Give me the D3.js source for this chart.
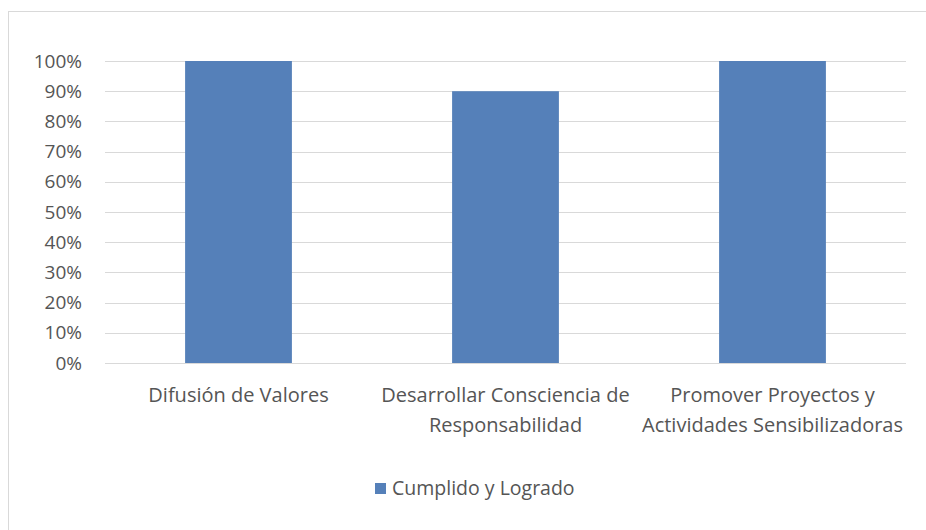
<!DOCTYPE html>
<html>
<head>
<meta charset="utf-8">
<script src="https://cdn.jsdelivr.net/npm/d3@7"></script>
<style>
  body { margin: 0; background: #fff; }
  text { font-family: "Open Sans", "Noto Sans", sans-serif; fill: #555; }
</style>
</head>
<body>
<div id="chart"></div>
<script>
const categories = [
  ["Difusión de Valores"],
  ["Desarrollar Consciencia de", "Responsabilidad"],
  ["Promover Proyectos y", "Actividades Sensibilizadoras"]
]
const values = [1.0, 0.9, 1.0]
const seriesName = "Cumplido y Logrado"
const yTicks = [0, 0.1, 0.2, 0.3, 0.4, 0.5, 0.6, 0.7, 0.8, 0.9, 1.0]

const width = 926
const height = 530
const margin = { left: 105, top: 61, right: 20, bottom: 167 }
const barColor = '#5580b9'

const svg = d3.select('#chart').append('svg')
  .attr('width', width)
  .attr('height', height)

// chart frame
svg.append('rect')
  .attr('x', 8.5).attr('y', 11.5)
  .attr('width', width).attr('height', height)
  .attr('fill', 'none')
  .attr('stroke', '#d9d9d9')

const x = d3.scaleBand()
  .domain(d3.range(categories.length))
  .range([margin.left, width - margin.right])
  .paddingInner(0.6)
  .paddingOuter(0.3)

const y = d3.scaleLinear()
  .domain([0, 1])
  .range([height - margin.bottom, margin.top])

// gridlines
svg.append('g')
  .selectAll('line')
  .data(yTicks)
  .join('line')
  .attr('x1', margin.left)
  .attr('x2', width - margin.right)
  .attr('y1', d => Math.round(y(d)) + 0.5)
  .attr('y2', d => Math.round(y(d)) + 0.5)
  .attr('stroke', '#d9d9d9')

// y axis labels
const yAxis = svg.append('g')
  .attr('transform', `translate(${margin.left}, 0)`)
  .call(d3.axisLeft(y).tickValues(yTicks).tickFormat(d3.format('.0%')).tickSize(0).tickPadding(23))
yAxis.select('.domain').remove()
yAxis.selectAll('.tick text')
  .style('font-size', '19px')
  .style('fill', '#555')
  .style('font-family', '"Open Sans", "Noto Sans", sans-serif')

// bars
svg.append('g')
  .selectAll('rect')
  .data(values)
  .join('rect')
  .attr('x', (d, i) => x(i))
  .attr('y', d => y(d))
  .attr('width', x.bandwidth())
  .attr('height', d => y(0) - y(d))
  .attr('fill', barColor)

// category labels
const catLabels = svg.append('g')
  .selectAll('text')
  .data(categories)
  .join('text')
  .attr('text-anchor', 'middle')
  .style('font-size', '20px')
  .attr('transform', (d, i) => `translate(${x(i) + x.bandwidth() / 2}, 402)`)

catLabels.selectAll('tspan')
  .data(d => d)
  .join('tspan')
  .attr('x', 0)
  .attr('y', (d, i) => i * 30)
  .text(d => d)

// legend
const legend = svg.append('g').attr('transform', 'translate(375, 483)')
legend.append('rect')
  .attr('width', 11).attr('height', 11)
  .attr('fill', barColor)
legend.append('text')
  .attr('x', 17).attr('y', 12)
  .style('font-size', '19.5px')
  .text(seriesName)
</script>
</body>
</html>
